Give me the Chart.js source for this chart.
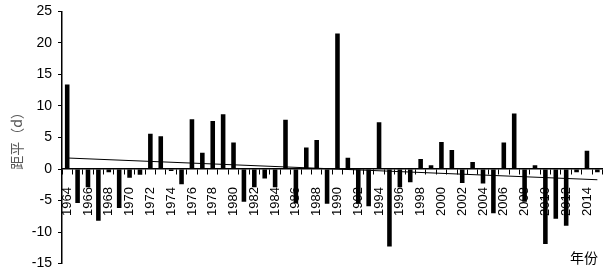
<!DOCTYPE html>
<html>
<head>
<meta charset="utf-8">
<script src="https://cdn.jsdelivr.net/npm/chart.js@4"></script>
<style>
  html, body { margin: 0; padding: 0; background: #fff; overflow: hidden; }
  #wrap { width: 626px; height: 281px; margin-top: -3px; }
</style>
</head>
<body>
<div id="wrap"><canvas id="chart"></canvas></div>
<script>
const years = ['1964', '1965', '1966', '1967', '1968', '1969', '1970', '1971', '1972', '1973',
  '1974', '1975', '1976', '1977', '1978', '1979', '1980', '1981', '1982', '1983',
  '1984', '1985', '1986', '1987', '1988', '1989', '1990', '1991', '1992', '1993',
  '1994', '1995', '1996', '1997', '1998', '1999', '2000', '2001', '2002', '2003',
  '2004', '2005', '2006', '2007', '2008', '2009', '2010', '2011', '2012', '2013',
  '2014', '2015'];
const anomaly = [13.4, -5.4, -2.9, -8.2, -0.5, -6.2, -1.4, -0.9, 5.6, 5.2,
  -0.3, -2.4, 7.9, 2.6, 7.6, 8.7, 4.2, -5.2, -2.9, -1.5,
  -2.9, 7.8, -5.4, 3.4, 4.6, -5.5, 21.5, 1.8, -5.5, -5.9,
  7.4, -12.3, -2.9, -2.1, 1.6, 0.6, 4.3, 3.0, -2.2, 1.1,
  -2.3, -7.0, 4.2, 8.8, -5.2, 0.6, -11.9, -7.9, -9.0, -0.5,
  2.9, -0.5];
// trend line end points (first and last year)
const trendEnds = [1.75, -1.7];
const yTicks = [-15, -10, -5, 0, 5, 10, 15, 20, 25];

const trend = years.map((y, i) => i === 0 ? trendEnds[0] : (i === years.length - 1 ? trendEnds[1] : null));

// x axis title drawn at bottom right (canvas is shifted up 3px)
const cornerLabel = {
  id: 'cornerLabel',
  afterDraw(chart) {
    const ctx = chart.ctx;
    ctx.save();
    ctx.font = '14px "Noto Sans CJK SC"';
    ctx.fillStyle = '#000';
    ctx.textAlign = 'center';
    ctx.textBaseline = 'middle';
    ctx.fillText('年份', 584, 261);
    ctx.restore();
  }
};

new Chart(document.getElementById('chart'), {
  type: 'bar',
  data: {
    labels: years,
    datasets: [
      {
        type: 'line',
        data: trend,
        spanGaps: true,
        borderColor: '#000',
        borderWidth: 1,
        pointRadius: 0,
        fill: false,
        order: 0
      },
      {
        data: anomaly,
        backgroundColor: '#000',
        barPercentage: 0.44,
        categoryPercentage: 1,
        order: 1
      }
    ]
  },
  options: {
    responsive: true,
    maintainAspectRatio: false,
    animation: false,
    layout: { padding: { top: 3, right: 4, bottom: 1, left: 0 } },
    plugins: {
      legend: { display: false },
      tooltip: { enabled: false }
    },
    scales: {
      x: {
        position: { y: 0 },
        grid: { drawOnChartArea: false, drawTicks: true, tickLength: 5, color: '#000', offset: true },
        border: { color: '#000', width: 1.5 },
        ticks: {
          autoSkip: false,
          maxRotation: 90,
          minRotation: 90,
          padding: 13,
          color: '#000',
          font: { family: 'Liberation Sans', size: 13 },
          callback: (v, i) => i % 2 === 0 ? years[i] : ''
        }
      },
      y: {
        min: -15,
        max: 25,
        afterBuildTicks: (scale) => { scale.ticks = yTicks.map(v => ({ value: v })); },
        afterFit: (scale) => { scale.width = 62; },
        grid: { drawOnChartArea: false, drawTicks: true, tickLength: 4, color: '#000' },
        border: { color: '#000', width: 1.5 },
        ticks: {
          padding: 6,
          color: '#000',
          font: { family: 'Liberation Sans', size: 14 }
        },
        title: {
          display: true,
          text: '距平（d）',
          color: '#595959',
          padding: { top: 8, bottom: 2 },
          font: { family: 'Noto Sans CJK SC', size: 14 }
        }
      }
    }
  },
  plugins: [cornerLabel]
});
</script>
</body>
</html>
